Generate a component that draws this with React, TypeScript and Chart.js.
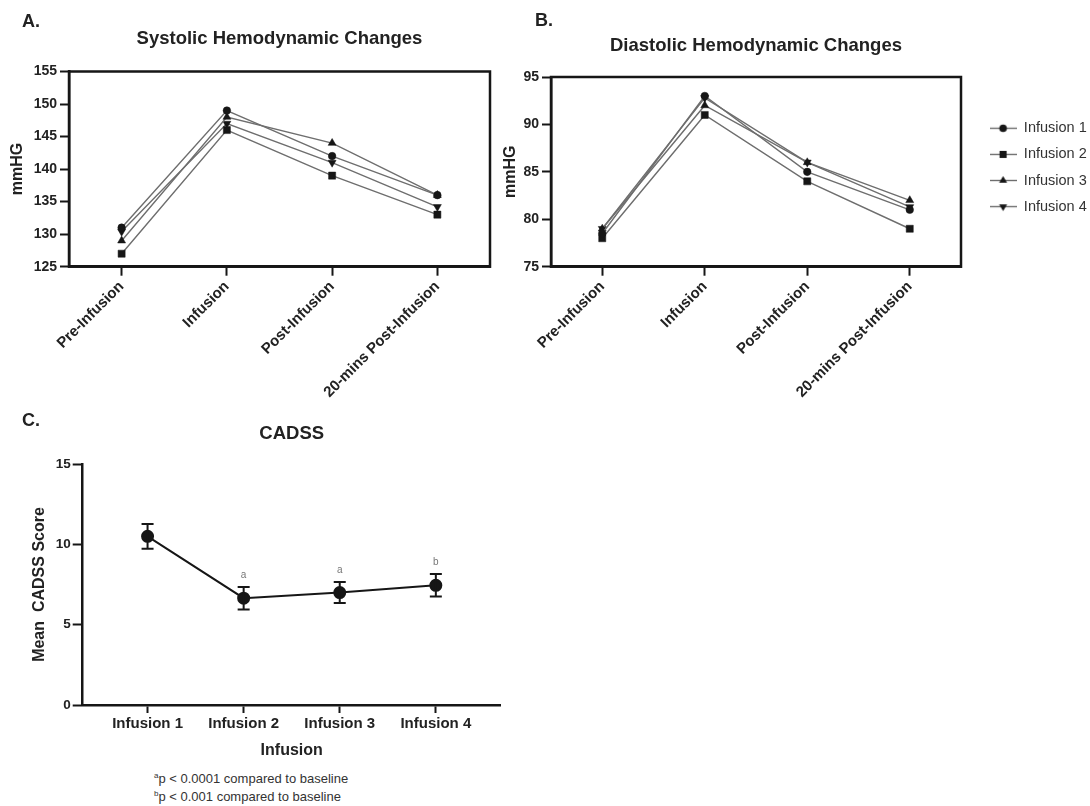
import React, { useEffect, useRef } from 'react';
import { Chart, registerables } from 'chart.js';

Chart.register(...registerables);

const FONT = "'Liberation Sans', Arial, Helvetica, sans-serif";

// ---------- Panels A & B (hemodynamics) ----------
const timepoints = ['Pre-Infusion', 'Infusion', 'Post-Infusion', '20-mins Post-Infusion'];
const seriesLabels = ['Infusion 1', 'Infusion 2', 'Infusion 3', 'Infusion 4'];

const systolicInfusion1 = [131, 149, 142, 136];
const systolicInfusion2 = [127, 146, 139, 133];
const systolicInfusion3 = [129, 148, 144, 136];
const systolicInfusion4 = [130.4, 147, 141, 134.2];
const systolicMin = 125;
const systolicMax = 155;

const diastolicInfusion1 = [78.5, 93, 85, 81];
const diastolicInfusion2 = [78, 91, 84, 79];
const diastolicInfusion3 = [79, 92, 86, 82];
const diastolicInfusion4 = [79, 92.8, 86, 81.3];
const diastolicMin = 75;
const diastolicMax = 95;

const hemoTickStep = 5;

// ---------- Panel C (CADSS) ----------
const cadssLabels = ['Infusion 1', 'Infusion 2', 'Infusion 3', 'Infusion 4'];
const cadssMean = [10.5, 6.65, 7.0, 7.45];
const cadssError = [0.77, 0.7, 0.65, 0.7];
const cadssSignificance = ['', 'a', 'a', 'b'];
const cadssMin = 0;
const cadssMax = 15;
const cadssTickStep = 5;

// marker styling (not data)
const markerStyles = ['circle', 'rect', 'triangle', 'triangle'];
const markerRotations = [0, 0, 0, 180];
const markerRadii = [3.8, 5, 4.6, 4.6];
const LINE_COLOR = '#6e6e6e';
const INK = '#161616';

function drawMarker(ctx: CanvasRenderingContext2D, i: number, x: number, y: number) {
  const r = markerRadii[i];
  ctx.beginPath();
  const style = markerStyles[i];
  if (style === 'circle') {
    ctx.arc(x, y, r, 0, Math.PI * 2);
  } else if (style === 'rect') {
    const s = r * Math.SQRT1_2;
    ctx.rect(x - s, y - s, 2 * s, 2 * s);
  } else {
    const dir = markerRotations[i] === 180 ? -1 : 1;
    ctx.moveTo(x, y - dir * r);
    ctx.lineTo(x + 0.866 * r, y + dir * 0.5 * r);
    ctx.lineTo(x - 0.866 * r, y + dir * 0.5 * r);
    ctx.closePath();
  }
  ctx.fill();
}

function legendImage(i: number): HTMLCanvasElement {
  const c = document.createElement('canvas');
  c.width = 27;
  c.height = 13;
  const ctx = c.getContext('2d')!;
  ctx.strokeStyle = LINE_COLOR;
  ctx.lineWidth = 1.4;
  ctx.beginPath();
  ctx.moveTo(0, 6.5);
  ctx.lineTo(27, 6.5);
  ctx.stroke();
  ctx.fillStyle = INK;
  drawMarker(ctx, i, 13.5, 6.5);
  return c;
}

const framePlugin = {
  id: 'frameBox',
  afterDraw(chart: any) {
    const { ctx, chartArea } = chart;
    ctx.save();
    ctx.strokeStyle = INK;
    ctx.lineWidth = 2.5;
    ctx.strokeRect(chartArea.left, chartArea.top, chartArea.right - chartArea.left, chartArea.bottom - chartArea.top);
    ctx.restore();
  },
};

const errorBarPlugin = {
  id: 'cadssErrorBars',
  afterDatasetsDraw(chart: any) {
    const xs = chart.scales.x;
    const ys = chart.scales.y;
    const ctx = chart.ctx;
    ctx.save();
    ctx.strokeStyle = INK;
    ctx.lineWidth = 2;
    cadssMean.forEach((m, i) => {
      const x = xs.getPixelForValue(i + 1);
      const yt = ys.getPixelForValue(m + cadssError[i]);
      const yb = ys.getPixelForValue(m - cadssError[i]);
      ctx.beginPath();
      ctx.moveTo(x, yt);
      ctx.lineTo(x, yb);
      ctx.moveTo(x - 6, yt);
      ctx.lineTo(x + 6, yt);
      ctx.moveTo(x - 6, yb);
      ctx.lineTo(x + 6, yb);
      ctx.stroke();
      if (cadssSignificance[i]) {
        ctx.fillStyle = '#777';
        ctx.font = `10px ${FONT}`;
        ctx.textAlign = 'center';
        ctx.textBaseline = 'middle';
        ctx.fillText(cadssSignificance[i], x, yt - 12);
      }
    });
    ctx.restore();
  },
};

function hemoConfig(o: any): any {
  const datasets = o.series.map((data: number[], i: number) => ({
    label: seriesLabels[i],
    data,
    yAxisID: 'y',
    borderColor: LINE_COLOR,
    borderWidth: 1.4,
    pointStyle: markerStyles[i],
    pointRotation: markerRotations[i],
    pointRadius: markerRadii[i],
    pointHoverRadius: markerRadii[i],
    pointBackgroundColor: INK,
    pointBorderColor: INK,
    pointBorderWidth: 0.5,
    tension: 0,
    fill: false,
  }));
  const scales: any = {
    x: {
      type: 'category',
      offset: true,
      grid: { display: true, drawOnChartArea: false, drawTicks: true, tickLength: 9, tickWidth: 2, tickColor: INK, color: INK, offset: false },
      border: { display: true, width: 2.5, color: INK },
      ticks: { autoSkip: false, minRotation: 45, maxRotation: 45, padding: 2, color: '#222', font: { family: FONT, size: 15, weight: 'bold' } },
      afterFit: (s: any) => { s.height = 153.3; },
    },
    y: {
      type: 'linear',
      position: 'left',
      min: o.min,
      max: o.max,
      ticks: { stepSize: hemoTickStep, padding: 3, color: '#222', font: { family: FONT, size: 14, weight: 'bold' } },
      grid: { display: true, drawOnChartArea: false, drawTicks: true, tickLength: 9, tickWidth: 2, tickColor: INK, color: INK },
      border: { display: true, width: 2.5, color: INK },
      title: { display: true, text: 'mmHG', color: '#222', font: { family: FONT, size: 16, weight: 'bold' }, padding: { top: o.yTitlePad, bottom: 0 } },
      afterFit: (s: any) => { s.width = o.yWidth; },
    },
  };
  if (o.legend) {
    scales.yPad = {
      type: 'linear',
      position: 'right',
      display: true,
      grid: { display: false },
      ticks: { display: false },
      border: { display: false },
      afterFit: (s: any) => { s.width = 17; },
    };
  }
  return {
    type: 'line',
    data: { labels: timepoints, datasets },
    options: {
      responsive: false,
      animation: false,
      events: [],
      layout: { padding: { left: 0, top: 0, bottom: 0, right: o.padRight } },
      scales,
      plugins: {
        title: {
          display: true,
          text: o.title,
          fullSize: false,
          color: '#222',
          font: { family: FONT, size: 18.5, weight: 'bold' },
          padding: { top: o.titlePadTop, bottom: o.titlePadBottom },
        },
        tooltip: { enabled: false },
        legend: o.legend
          ? {
              display: true,
              position: 'right',
              align: 'start',
              fullSize: false,
              maxWidth: 110,
              title: { display: true, text: '', font: { family: FONT, size: 12, lineHeight: 1 }, padding: { top: 0, bottom: 20.45 } },
              labels: {
                usePointStyle: true,
                pointStyleWidth: 27,
                padding: 11.6,
                color: '#333',
                font: { family: FONT, size: 14.5 },
                generateLabels: (chart: any) => {
                  const items = (Chart as any).defaults.plugins.legend.labels.generateLabels(chart);
                  return items.map((it: any, i: number) => ({ ...it, pointStyle: o.legendImages[i], rotation: 0, fontColor: '#333' }));
                },
              },
            }
          : { display: false },
      },
    },
    plugins: [framePlugin],
  };
}

function cadssConfig(): any {
  return {
    type: 'line',
    data: {
      datasets: [
        {
          label: 'CADSS',
          data: cadssMean.map((m, i) => ({ x: i + 1, y: m })),
          borderColor: INK,
          borderWidth: 2,
          pointStyle: 'circle',
          pointRadius: 5.5,
          pointHoverRadius: 5.5,
          pointBackgroundColor: INK,
          pointBorderColor: INK,
          tension: 0,
          fill: false,
        },
      ],
    },
    options: {
      responsive: false,
      animation: false,
      events: [],
      layout: { padding: { left: 0, top: 0, bottom: 0, right: 39.3 } },
      scales: {
        x: {
          type: 'linear',
          min: 0.325,
          max: 4.675,
          afterBuildTicks: (s: any) => { s.ticks = cadssLabels.map((_, i) => ({ value: i + 1 })); },
          ticks: {
            autoSkip: false,
            maxRotation: 0,
            padding: 2,
            color: '#222',
            font: { family: FONT, size: 15, weight: 'bold' },
            callback: (v: any) => cadssLabels[Math.round(v) - 1],
          },
          grid: { display: true, drawOnChartArea: false, drawTicks: true, tickLength: 8, tickWidth: 2, tickColor: INK, color: INK },
          border: { display: true, width: 2.5, color: INK },
          title: { display: true, text: 'Infusion', color: '#222', font: { family: FONT, size: 16, weight: 'bold' }, padding: { top: 0, bottom: 9.7 } },
          afterFit: (s: any) => { s.height = 65; },
        },
        y: {
          type: 'linear',
          min: cadssMin,
          max: cadssMax,
          ticks: { stepSize: cadssTickStep, padding: 2, color: '#222', font: { family: FONT, size: 13.5, weight: 'bold' } },
          grid: { display: true, drawOnChartArea: false, drawTicks: true, tickLength: 10, tickWidth: 2, tickColor: INK, color: INK },
          border: { display: true, width: 2.5, color: INK },
          title: { display: true, text: 'Mean  CADSS Score', color: '#222', font: { family: FONT, size: 16, weight: 'bold' }, padding: { top: 30.4, bottom: 0 } },
          afterFit: (s: any) => { s.width = 82.7; },
        },
      },
      plugins: {
        title: {
          display: true,
          text: 'CADSS',
          fullSize: false,
          color: '#222',
          font: { family: FONT, size: 18.5, weight: 'bold' },
          padding: { top: 2.9, bottom: 18.9 },
        },
        legend: { display: false },
        tooltip: { enabled: false },
      },
    },
    plugins: [errorBarPlugin],
  };
}

export default function App() {
  const refA = useRef<HTMLCanvasElement>(null);
  const refB = useRef<HTMLCanvasElement>(null);
  const refC = useRef<HTMLCanvasElement>(null);

  useEffect(() => {
    document.documentElement.style.overflow = 'hidden';
    document.body.style.overflow = 'hidden';
    const legendImages = seriesLabels.map((_, i) => legendImage(i));
    const charts: Chart[] = [];
    charts.push(
      new Chart(
        refA.current!,
        hemoConfig({
          title: 'Systolic Hemodynamic Changes',
          series: [systolicInfusion1, systolicInfusion2, systolicInfusion3, systolicInfusion4],
          min: systolicMin,
          max: systolicMax,
          yWidth: 69,
          yTitlePad: 8.4,
          titlePadTop: 27.4,
          titlePadBottom: 21.9,
          padRight: 10,
          legend: false,
        })
      )
    );
    charts.push(
      new Chart(
        refB.current!,
        hemoConfig({
          title: 'Diastolic Hemodynamic Changes',
          series: [diastolicInfusion1, diastolicInfusion2, diastolicInfusion3, diastolicInfusion4],
          min: diastolicMin,
          max: diastolicMax,
          yWidth: 51,
          yTitlePad: 1.1,
          titlePadTop: 34.9,
          titlePadBottom: 19.9,
          padRight: 2,
          legend: true,
          legendImages,
        })
      )
    );
    charts.push(new Chart(refC.current!, cadssConfig()));
    return () => charts.forEach((c) => c.destroy());
  }, []);

  const letter: React.CSSProperties = { position: 'absolute', font: `bold 18px ${FONT}`, color: '#222', lineHeight: '18px', margin: 0 };
  const note: React.CSSProperties = { position: 'absolute', left: 154, font: `13px ${FONT}`, color: '#333', lineHeight: '18px', whiteSpace: 'nowrap' };
  const sup: React.CSSProperties = { fontSize: 8, verticalAlign: 'top', lineHeight: '12px' };

  return (
    <div style={{ position: 'absolute', left: 0, top: 0, width: 1090, height: 806, background: '#fff', overflow: 'hidden' }}>
      <canvas ref={refA} width={500} height={420} style={{ position: 'absolute', left: 0, top: 0 }} />
      <canvas ref={refB} width={590} height={420} style={{ position: 'absolute', left: 500, top: 0 }} />
      <canvas ref={refC} width={540} height={350} style={{ position: 'absolute', left: 0, top: 420 }} />
      <div style={{ ...letter, left: 22, top: 12 }}>A.</div>
      <div style={{ ...letter, left: 535, top: 11 }}>B.</div>
      <div style={{ ...letter, left: 22, top: 411 }}>C.</div>
      <div style={{ ...note, top: 770 }}>
        <span style={sup}>a</span>p &lt; 0.0001 compared to baseline
      </div>
      <div style={{ ...note, top: 788 }}>
        <span style={sup}>b</span>p &lt; 0.001 compared to baseline
      </div>
    </div>
  );
}
